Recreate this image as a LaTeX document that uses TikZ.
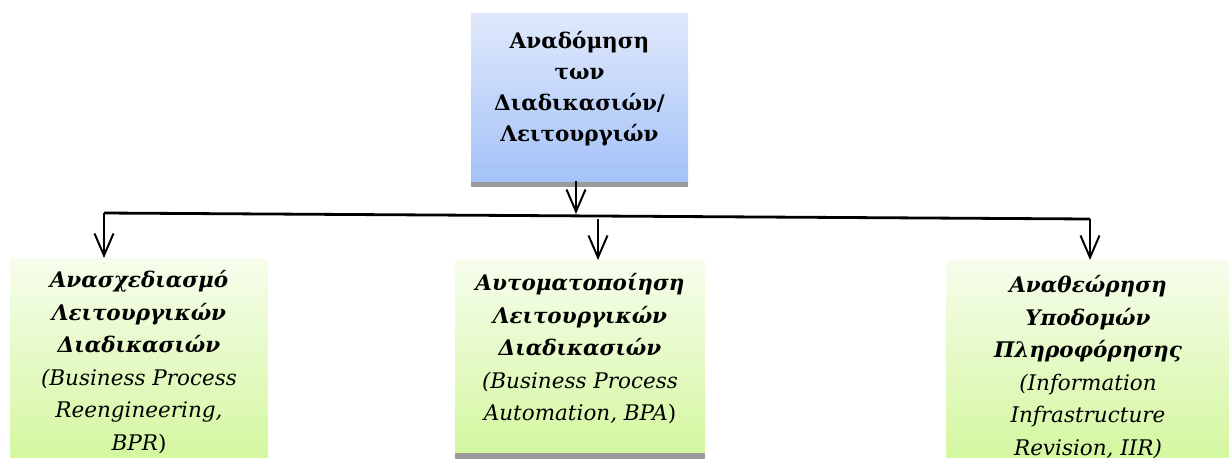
\documentclass[tikz,border=0pt]{standalone}
\usepackage{fontspec}
\setmainfont{DejaVu Serif}
\usetikzlibrary{arrows.meta}
\definecolor{blueTop}{HTML}{E0E9FB}
\definecolor{blueBot}{HTML}{A4C2F8}
\definecolor{greenTop}{HTML}{F6FDEC}
\definecolor{greenBot}{HTML}{D4F7A0}
\definecolor{shadowGray}{HTML}{9A9A9A}
\newcommand{\boxlines}[2]{\parbox[t]{#1}{\centering #2}}
\tikzset{
  x=1pt, y=-1pt,
  panel/.style={draw=none, inner sep=0, outer sep=0, anchor=north west},
  bluepanel/.style={panel, top color=blueTop, bottom color=blueBot},
  greenpanel/.style={panel, top color=greenTop, bottom color=greenBot},
  label/.style={anchor=base, inner sep=0, outer sep=0,
    font=\fontsize{21.5}{32.5}\selectfont},
  link/.style={line width=2pt, black},
  arrowlink/.style={link, -{Straight Barb[length=22pt,width=19pt,line width=2pt]}},
}
\begin{document}
\begin{tikzpicture}
\clip (0,0) rectangle (1229,459);

% top box with its shadow strip
\fill[shadowGray] (471,179) rectangle (688,187);
\node[bluepanel, minimum width=217pt, minimum height=168pt] (top) at (471,13) {};
\node[label, font=\fontsize{21.5}{31}\selectfont\bfseries] (toptext) at (579.5,48.5)
  {\boxlines{214pt}{Αναδόμηση\\των\\Διαδικασιών/\\Λειτουργιών}};

% lower boxes
\fill[shadowGray] (455,450) rectangle (705,459);
\node[greenpanel, minimum width=258pt, minimum height=199pt] (left) at (10,258) {};
\node[greenpanel, minimum width=250pt, minimum height=192pt] (mid) at (455,260) {};
\node[greenpanel, minimum width=284pt, minimum height=197pt] (right) at (946,260) {};

\node[label] (lefttext) at (139,287.5)
  {\boxlines{256pt}{\textbf{\textit{Ανασχεδιασμό\\Λειτουργικών\\Διαδικασιών}}\\
   \textit{(Business Process\\Reengineering,\\BPR})}};
\node[label] (midtext) at (580,290.5)
  {\boxlines{248pt}{\textbf{\textit{Αυτοματοποίηση\\Λειτουργικών\\Διαδικασιών}}\\
   \textit{(Business Process\\Automation, BPA})}};
\begin{scope}
  % the last line runs past the bottom of its box and is cut there
  \clip (right.north west) rectangle (right.south east);
  \node[label] (righttext) at (1088,292.5)
    {\boxlines{280pt}{\textbf{\textit{Αναθεώρηση\\Υποδομών\\Πληροφόρησης}}\\
     \textit{(Information\\Infrastructure\\Revision, IIR)}}};
\end{scope}

% distribution bar
\coordinate (hub) at (576,214);
\coordinate (barL) at (104,213);
\coordinate (barR) at (1090,219);
\coordinate (barM) at (598,219);

\draw[arrowlink] (top.south -| hub) -- (hub);
\draw[link, line width=2.8pt] (barL) -- (barR);
\draw[arrowlink] (barL) -- (barL |- left.north);
\draw[arrowlink] (barM) -- (barM |- mid.north);
\draw[arrowlink] (barR) -- (barR |- right.north);
\end{tikzpicture}
\end{document}
